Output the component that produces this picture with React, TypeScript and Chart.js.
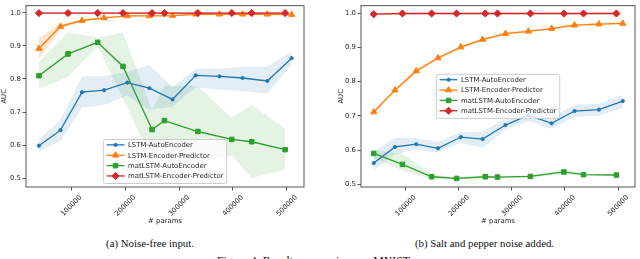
import React, { useEffect, useRef } from 'react';
import { Chart, registerables } from 'chart.js';
import { drawPoint } from 'chart.js/helpers';

Chart.register(...registerables);

// ---------------- data ----------------
const seriesNames = ['LSTM-AutoEncoder', 'LSTM-Encoder-Predictor', 'matLSTM-AutoEncoder', 'matLSTM-Encoder-Predictor'];
const lstmParams = [40000, 80000, 120000, 161000, 204000, 245000, 288000, 331000, 375000, 418000, 464000, 509000];
const matParams = [40000, 94000, 149000, 196000, 250000, 273000, 335000, 398000, 435000, 497000];
const xTickValues = [100000, 200000, 300000, 400000, 500000];
const yTickValues = [0.5, 0.6, 0.7, 0.8, 0.9, 1.0];

// (a) Noise-free input
const aLstmAE = [0.598, 0.645, 0.760, 0.766, 0.789, 0.772, 0.738, 0.811, 0.808, 0.803, 0.794, 0.863];
const aLstmAELo = [0.580, 0.612, 0.713, 0.721, 0.750, 0.706, 0.716, 0.775, 0.768, 0.763, 0.755, 0.843];
const aLstmAEHi = [0.617, 0.677, 0.808, 0.808, 0.822, 0.842, 0.775, 0.830, 0.832, 0.837, 0.837, 0.884];
const aLstmEP = [0.892, 0.959, 0.977, 0.985, 0.991, 0.991, 0.992, 0.996, 0.996, 0.996, 0.996, 0.995];
const aLstmEPLo = [0.860, 0.952, 0.973, 0.982, 0.989, 0.989, 0.990, 0.994, 0.994, 0.994, 0.994, 0.993];
const aLstmEPHi = [0.925, 0.966, 0.981, 0.988, 0.993, 0.993, 0.994, 0.998, 0.998, 0.998, 0.998, 0.997];
const aMatAE = [0.810, 0.876, 0.911, 0.838, 0.647, 0.674, 0.641, 0.617, 0.610, 0.586];
const aMatAELo = [0.770, 0.806, 0.900, 0.740, 0.555, 0.550, 0.545, 0.568, 0.500, 0.525];
const aMatAEHi = [0.852, 0.942, 0.925, 0.941, 0.705, 0.780, 0.778, 0.683, 0.721, 0.650];
const aMatEP = [0.9995, 0.9995, 0.9995, 0.9995, 0.9995, 0.9995, 0.9995, 0.9995, 0.9995, 0.9995];
const aMatEPLo = [0.997, 0.997, 0.997, 0.997, 0.997, 0.997, 0.997, 0.997, 0.997, 0.997];
const aMatEPHi = [1.002, 1.002, 1.002, 1.002, 1.002, 1.002, 1.002, 1.002, 1.002, 1.002];

// (b) Salt and pepper noise added
const bLstmAE = [0.562, 0.609, 0.617, 0.605, 0.638, 0.632, 0.673, 0.702, 0.678, 0.714, 0.718, 0.743];
const bLstmAELo = [0.540, 0.587, 0.602, 0.592, 0.621, 0.606, 0.659, 0.685, 0.662, 0.697, 0.700, 0.723];
const bLstmAEHi = [0.595, 0.635, 0.635, 0.624, 0.652, 0.654, 0.691, 0.723, 0.697, 0.731, 0.735, 0.761];
const bLstmEP = [0.711, 0.775, 0.831, 0.869, 0.901, 0.923, 0.940, 0.947, 0.955, 0.965, 0.968, 0.970];
const bLstmEPLo = [0.706, 0.771, 0.824, 0.865, 0.897, 0.919, 0.936, 0.944, 0.952, 0.962, 0.965, 0.967];
const bLstmEPHi = [0.716, 0.779, 0.838, 0.873, 0.905, 0.927, 0.944, 0.950, 0.958, 0.968, 0.971, 0.973];
const bMatAE = [0.590, 0.558, 0.522, 0.517, 0.522, 0.521, 0.523, 0.536, 0.528, 0.527];
const bMatAELo = [0.576, 0.540, 0.515, 0.514, 0.519, 0.518, 0.520, 0.528, 0.525, 0.524];
const bMatAEHi = [0.600, 0.589, 0.530, 0.520, 0.525, 0.524, 0.526, 0.545, 0.531, 0.530];
const bMatEP = [0.997, 0.999, 0.999, 0.999, 0.999, 0.999, 0.999, 0.999, 0.999, 0.999];
const bMatEPLo = [0.995, 0.997, 0.997, 0.997, 0.997, 0.997, 0.997, 0.997, 0.997, 0.997];
const bMatEPHi = [0.999, 1.001, 1.001, 1.001, 1.001, 1.001, 1.001, 1.001, 1.001, 1.001];

// ---------------- styles ----------------
const COLORS = ['#1f77b4', '#ff7f0e', '#2ca02c', '#d62728'];
const BANDS = ['rgba(31,119,180,0.13)', 'rgba(255,127,14,0.22)', 'rgba(44,160,44,0.12)', 'rgba(214,39,40,0.28)'];
const MARKERS = [
  { style: 'circle', r: 1.6 },
  { style: 'triangle', r: 3.6 },
  { style: 'rect', r: 3.2 },
  { style: 'rectRot', r: 3.6 },
];
const FONT_FAMILY = '"DejaVu Sans", sans-serif';
const FONT_SIZE = 6.9;
const TEXT_COLOR = '#262626';
const FRAME_COLOR = '#555';

type Panel = {
  xs: number[][];
  mean: number[][];
  lo: number[][];
  hi: number[][];
  yMin: number;
  yMax: number;
  legendLoc: 'lower' | 'center';
  padLeft: number;
  padRight: number;
  yAxisWidth: number;
};

const zip = (xs: number[], ys: number[]) => xs.map((x, i) => ({ x, y: ys[i] }));

const framePlugin = {
  id: 'frameBox',
  afterDatasetsDraw(chart: any) {
    const { ctx, chartArea: a } = chart;
    ctx.save();
    ctx.strokeStyle = FRAME_COLOR;
    ctx.lineWidth = 1;
    ctx.strokeRect(a.left, a.top, a.right - a.left, a.bottom - a.top);
    ctx.restore();
  },
};

const legendPlugin = {
  id: 'boxLegend',
  afterDraw(chart: any, _args: any, opts: any) {
    const { ctx, chartArea: a } = chart;
    ctx.save();
    ctx.font = `${FONT_SIZE}px ${FONT_FAMILY}`;
    const textW = Math.max(...seriesNames.map((n) => ctx.measureText(n).width));
    const pad = 3.3;
    const handle = 18;
    const gap = 3.4;
    const w = pad + handle + gap + textW + pad;
    const h = 44;
    const cx = (a.left + a.right) / 2;
    const left = cx - w / 2;
    const top = opts.loc === 'lower' ? a.bottom - 3.5 - h : (a.top + a.bottom) / 2 - h / 2;
    ctx.beginPath();
    const r = 2;
    ctx.moveTo(left + r, top);
    ctx.lineTo(left + w - r, top);
    ctx.quadraticCurveTo(left + w, top, left + w, top + r);
    ctx.lineTo(left + w, top + h - r);
    ctx.quadraticCurveTo(left + w, top + h, left + w - r, top + h);
    ctx.lineTo(left + r, top + h);
    ctx.quadraticCurveTo(left, top + h, left, top + h - r);
    ctx.lineTo(left, top + r);
    ctx.quadraticCurveTo(left, top, left + r, top);
    ctx.closePath();
    ctx.fillStyle = 'rgba(255,255,255,0.8)';
    ctx.fill();
    ctx.strokeStyle = '#cccccc';
    ctx.lineWidth = 1;
    ctx.stroke();
    seriesNames.forEach((name, i) => {
      const y = top + 5.4 + i * 10.35;
      const x0 = left + pad;
      ctx.strokeStyle = COLORS[i];
      ctx.lineWidth = 1.3;
      ctx.beginPath();
      ctx.moveTo(x0, y);
      ctx.lineTo(x0 + handle, y);
      ctx.stroke();
      ctx.fillStyle = COLORS[i];
      ctx.strokeStyle = COLORS[i];
      ctx.lineWidth = 1;
      drawPoint(ctx, { pointStyle: MARKERS[i].style as any, radius: MARKERS[i].r, rotation: 0, borderWidth: 1 }, x0 + handle / 2, y);
      ctx.fillStyle = TEXT_COLOR;
      ctx.textBaseline = 'middle';
      ctx.textAlign = 'left';
      ctx.fillText(name, x0 + handle + gap, y + 0.5);
    });
    ctx.restore();
  },
};

function makeConfig(p: Panel): any {
  const datasets: any[] = [];
  for (let i = 0; i < 4; i++) {
    datasets.push({
      data: zip(p.xs[i], p.lo[i]),
      borderWidth: 0,
      borderColor: 'rgba(0,0,0,0)',
      pointRadius: 0,
      fill: false,
      order: 10,
    });
    datasets.push({
      data: zip(p.xs[i], p.hi[i]),
      borderWidth: 0,
      borderColor: 'rgba(0,0,0,0)',
      backgroundColor: BANDS[i],
      pointRadius: 0,
      fill: '-1',
      order: 10,
    });
  }
  for (let i = 0; i < 4; i++) {
    datasets.push({
      label: seriesNames[i],
      data: zip(p.xs[i], p.mean[i]),
      borderColor: COLORS[i],
      backgroundColor: COLORS[i],
      borderWidth: 1.3,
      pointStyle: MARKERS[i].style,
      pointRadius: MARKERS[i].r,
      pointBackgroundColor: COLORS[i],
      pointBorderColor: COLORS[i],
      pointBorderWidth: 1,
      fill: false,
      tension: 0,
      order: 4 - i,
    });
  }
  const tickFont = { family: FONT_FAMILY, size: FONT_SIZE };
  return {
    type: 'line',
    data: { datasets },
    options: {
      animation: false,
      responsive: false,
      devicePixelRatio: 1,
      layout: { padding: { left: p.padLeft, right: p.padRight, top: 2, bottom: 0 } },
      plugins: {
        legend: { display: false },
        tooltip: { enabled: false },
        filler: { drawTime: 'beforeDatasetsDraw' },
        boxLegend: { loc: p.legendLoc },
      },
      scales: {
        x: {
          type: 'linear',
          min: 16000,
          max: 532000,
          afterBuildTicks: (s: any) => {
            s.ticks = xTickValues.map((v) => ({ value: v }));
          },
          afterFit: (s: any) => {
            s.height = 43;
          },
          grid: { display: true, drawOnChartArea: false, drawTicks: true, tickLength: 3.5, color: FRAME_COLOR, tickWidth: 1 },
          border: { display: false },
          ticks: {
            minRotation: 45,
            maxRotation: 45,
            autoSkip: false,
            font: tickFont,
            color: TEXT_COLOR,
            padding: 3,
            labelOffset: 9.5,
            callback: (v: any) => String(v),
          },
          title: { display: true, text: '# params', font: tickFont, color: TEXT_COLOR, padding: { top: 0, bottom: 5 } },
        },
        y: {
          type: 'linear',
          min: p.yMin,
          max: p.yMax,
          afterBuildTicks: (s: any) => {
            s.ticks = yTickValues.map((v) => ({ value: v }));
          },
          afterFit: (s: any) => {
            s.width = p.yAxisWidth;
          },
          grid: { display: true, drawOnChartArea: false, drawTicks: true, tickLength: 3.5, color: FRAME_COLOR, tickWidth: 1 },
          border: { display: false },
          ticks: {
            font: tickFont,
            color: TEXT_COLOR,
            padding: 1.5,
            callback: (v: any) => Number(v).toFixed(1),
          },
          title: { display: true, text: 'AUC', font: tickFont, color: TEXT_COLOR, padding: 0 },
        },
      },
    },
    plugins: [framePlugin, legendPlugin],
  };
}

const panelA: Panel = {
  xs: [lstmParams, lstmParams, matParams, matParams],
  mean: [aLstmAE, aLstmEP, aMatAE, aMatEP],
  lo: [aLstmAELo, aLstmEPLo, aMatAELo, aMatEPLo],
  hi: [aLstmAEHi, aLstmEPHi, aMatAEHi, aMatEPHi],
  yMin: 0.473,
  yMax: 1.022,
  legendLoc: 'lower',
  padLeft: 0,
  padRight: 16,
  yAxisWidth: 26,
};

const panelB: Panel = {
  xs: [lstmParams, lstmParams, matParams, matParams],
  mean: [bLstmAE, bLstmEP, bMatAE, bMatEP],
  lo: [bLstmAELo, bLstmEPLo, bMatAELo, bMatEPLo],
  hi: [bLstmAEHi, bLstmEPHi, bMatAEHi, bMatEPHi],
  yMin: 0.492,
  yMax: 1.022,
  legendLoc: 'center',
  padLeft: 17,
  padRight: 3,
  yAxisWidth: 24,
};

function ChartPanel({ panel, left }: { panel: Panel; left: number }) {
  const ref = useRef<HTMLCanvasElement | null>(null);
  useEffect(() => {
    if (!ref.current) return;
    const chart = new Chart(ref.current, makeConfig(panel));
    return () => chart.destroy();
  }, [panel]);
  return (
    <canvas
      ref={ref}
      width={320}
      height={230}
      style={{ position: 'absolute', left, top: 0, width: 320, height: 230 }}
    />
  );
}

const captionStyle: React.CSSProperties = {
  position: 'absolute',
  fontFamily: '"Liberation Serif", "Times New Roman", serif',
  fontSize: '10.8px',
  lineHeight: '11px',
  color: '#111',
  whiteSpace: 'nowrap',
  transform: 'translateX(-50%)',
};

export default function App() {
  return (
    <div style={{ position: 'absolute', left: 0, top: 0, width: 640, height: 259, overflow: 'hidden', background: '#fff' }}>
      <ChartPanel panel={panelA} left={0} />
      <ChartPanel panel={panelB} left={320} />
      <div style={{ ...captionStyle, left: 150, top: 237.5 }}>(a) Noise-free input.</div>
      <div style={{ ...captionStyle, left: 484.5, top: 237.5 }}>(b) Salt and pepper noise added.</div>
      <div
        style={{
          position: 'absolute',
          left: 217,
          top: 255,
          fontFamily: '"Liberation Serif", "Times New Roman", serif',
          fontSize: '11.8px',
          lineHeight: '12px',
          color: '#111',
          whiteSpace: 'nowrap',
        }}
      >
        Figure 4: Results comparison on MNIST.
      </div>
    </div>
  );
}
